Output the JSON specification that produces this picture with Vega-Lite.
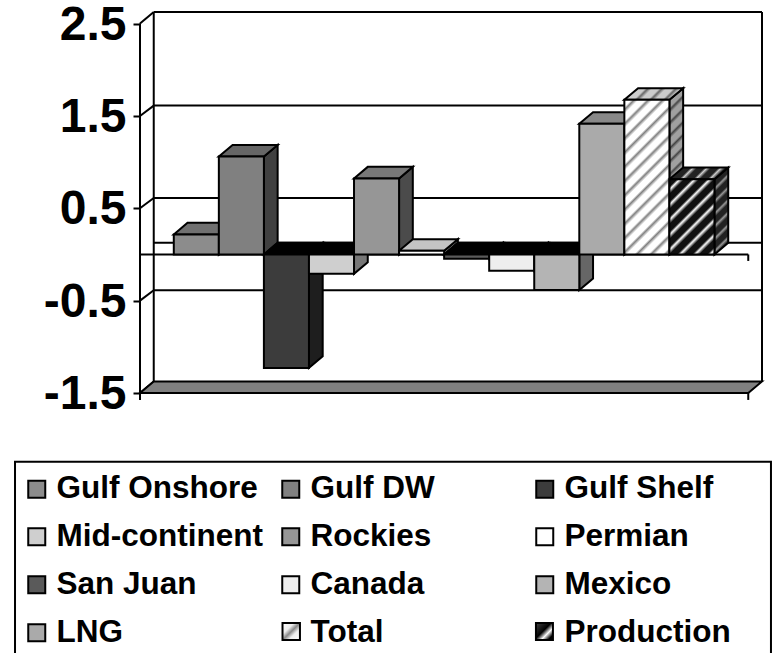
{
  "$schema": "https://vega.github.io/schema/vega-lite/v6.json",
  "width": 622,
  "height": 381,
  "autosize": {"type": "none"},
  "padding": {"left": 140, "top": 12, "right": 21, "bottom": 260},
  "background": "white",
  "config": {"view": {"stroke": null}, "font": "Liberation Sans"},
  "data": {"values": [
    {"source": "Gulf Onshore", "value": 0.217},
    {"source": "Gulf DW", "value": 1.06},
    {"source": "Gulf Shelf", "value": -1.228},
    {"source": "Mid-continent", "value": -0.209},
    {"source": "Rockies", "value": 0.823},
    {"source": "Permian", "value": 0.04},
    {"source": "San Juan", "value": -0.045},
    {"source": "Canada", "value": -0.175},
    {"source": "Mexico", "value": -0.385},
    {"source": "LNG", "value": 1.415},
    {"source": "Total", "value": 1.675},
    {"source": "Production", "value": 0.815}
  ]},
  "transform": [
    {"window": [{"op": "row_number", "as": "n"}]},
    {"calculate": "datum.n - 1", "as": "i"},
    {"calculate": "max(datum.value, 0)", "as": "hi"},
    {"calculate": "min(datum.value, 0)", "as": "lo"}
  ],
  "encoding": {
    "x": {"field": "px", "type": "quantitative", "scale": {"domain": [-0.75, 13.055], "nice": false, "zero": false}, "axis": null},
    "y": {"field": "py", "type": "quantitative", "scale": {"domain": [-1.5, 2.6257], "nice": false, "zero": false},
      "axis": {"title": null, "values": [-1.5, -0.5, 0.5, 1.5, 2.5], "format": ".1f", "labelExpr": "replace(datum.label, '\u2212', '-')", "domain": false, "grid": false, "tickSize": 7, "tickWidth": 2, "tickColor": "black", "labelFont": "Liberation Sans", "labelFontWeight": "bold", "labelFontSize": 48, "labelColor": "black", "labelPadding": 7, "labelOffset": 1.5}}
  },
  "resolve": {"scale": {"color": "independent"}},
  "layer": [
    {
      "data": {"values": [{"level": -0.5}, {"level": 0}, {"level": 0.5}, {"level": 1.5}, {"level": 2.5}]},
      "transform": [
        {"calculate": "datum.level + (datum.level === 0 || datum.level === 2.5 ? 0.1257 : 0.112)", "as": "py"},
        {"calculate": "-0.445", "as": "px"},
        {"calculate": "13.055", "as": "px2"}
      ],
      "mark": {"type": "rule", "stroke": "black", "strokeWidth": 2},
      "encoding": {"x2": {"field": "px2"}}
    },
    {
      "data": {"values": [{"level": -1.5}, {"level": -0.5}, {"level": 0.5}, {"level": 1.5}, {"level": 2.5}]},
      "transform": [
        {"calculate": "datum.level", "as": "py"},
        {"calculate": "datum.level + (datum.level === -1.5 || datum.level === 2.5 ? 0.1257 : 0.112)", "as": "py2"},
        {"calculate": "-0.75", "as": "px"},
        {"calculate": "-0.445", "as": "px2"}
      ],
      "mark": {"type": "rule", "stroke": "black", "strokeWidth": 2},
      "encoding": {"x2": {"field": "px2"}, "y2": {"field": "py2"}}
    },
    {
      "data": {"values": [{"edge": -0.445}, {"edge": 13.055}]},
      "transform": [
        {"calculate": "datum.edge", "as": "px"},
        {"calculate": "-1.3743", "as": "py"},
        {"calculate": "2.6257", "as": "py2"}
      ],
      "mark": {"type": "rule", "stroke": "black", "strokeWidth": 2},
      "encoding": {"y2": {"field": "py2"}}
    },
    {
      "data": {"values": [{"corner": 0}, {"corner": 1}, {"corner": 2}, {"corner": 3}]},
      "transform": [
        {"calculate": "[-0.75, -0.445, 12.75, 13.055][datum.corner]", "as": "px"},
        {"calculate": "datum.corner > 0 ? -1.3743 : -1.5", "as": "py"},
        {"calculate": "datum.corner === 3 ? -1.3743 : -1.5", "as": "py2"}
      ],
      "mark": {"type": "area", "orient": "vertical", "fill": "#808080", "stroke": "black", "strokeWidth": 2},
      "encoding": {"y2": {"field": "py2"}}
    },
    {
      "data": {"values": [
        {"px": -0.75, "px2": -0.75, "py": -1.575, "py2": 2.5},
        {"px": -0.75, "px2": 12.75, "py": 0, "py2": 0},
        {"px": 12.75, "px2": 12.75, "py": 0, "py2": -0.07},
        {"px": 12.75, "px2": 12.75, "py": -1.5, "py2": -1.575}
      ]},
      "mark": {"type": "rule", "stroke": "black", "strokeWidth": 2},
      "encoding": {"x2": {"field": "px2"}, "y2": {"field": "py2"}}
    },
    {
      "data": {"values": [{"px": -3.524, "px2": 13.254, "py": -2.244, "py2": -4.4}]},
      "mark": {"type": "rect", "fill": null, "stroke": "black", "strokeWidth": 2},
      "encoding": {"x2": {"field": "px2"}, "y2": {"field": "py2"}}
    },
    {
      "data": {"values": [{"px": 2.413, "px2": 2.8, "py": -3.99, "py2": -4.175}]},
      "mark": {"type": "rect", "stroke": "black", "strokeWidth": 2,
        "fill": {"gradient": "linear", "x1": 0, "y1": 0, "x2": 1, "y2": 1, "stops": [
          {"offset": 0, "color": "#ffffff"}, {"offset": 0.33, "color": "#eeeeee"}, {"offset": 0.5, "color": "#888888"}, {"offset": 0.67, "color": "#eeeeee"}, {"offset": 1, "color": "#ffffff"}]}},
      "encoding": {"x2": {"field": "px2"}, "y2": {"field": "py2"}}
    },
    {
      "data": {"values": [{"px": 8.038, "px2": 8.415, "py": -3.99, "py2": -4.175}]},
      "mark": {"type": "rect", "stroke": "black", "strokeWidth": 2,
        "fill": {"gradient": "linear", "x1": 0, "y1": 0, "x2": 1, "y2": 1, "stops": [
          {"offset": 0, "color": "#444444"}, {"offset": 0.45, "color": "#000000"}, {"offset": 0.65, "color": "#ffffff"}, {"offset": 0.85, "color": "#000000"}, {"offset": 1, "color": "#000000"}]}},
      "encoding": {"x2": {"field": "px2"}, "y2": {"field": "py2"}}
    },
    {
      "transform": [
        {"filter": "datum.source !== 'Total' && datum.source !== 'Production'"},
        {"calculate": "[0, 1]", "as": "t"},
        {"flatten": ["t"]},
        {"calculate": "datum.i + 1 + datum.t * 0.305", "as": "px"},
        {"calculate": "datum.hi + datum.t * 0.1257", "as": "py"},
        {"calculate": "datum.lo + datum.t * 0.1257", "as": "py2"}
      ],
      "mark": {"type": "area", "orient": "vertical", "stroke": "black", "strokeWidth": 2},
      "encoding": {
        "y2": {"field": "py2"},
        "color": {"field": "source", "type": "nominal", "legend": null, "scale": {
          "domain": ["Gulf Onshore", "Gulf DW", "Gulf Shelf", "Mid-continent", "Rockies", "Permian", "San Juan", "Canada", "Mexico", "LNG"],
          "range": ["#464646", "#404040", "#1e1e1e", "#777777", "#4b4b4b", "#808080", "#2d2d2d", "#777777", "#666666", "#555555"]}}
      }
    },
    {
      "transform": [
        {"filter": "datum.source === 'Total'"},
        {"calculate": "[0, 1]", "as": "t"},
        {"flatten": ["t"]},
        {"calculate": "datum.i + 1 + datum.t * 0.305", "as": "px"},
        {"calculate": "datum.hi + datum.t * 0.1257", "as": "py"},
        {"calculate": "datum.lo + datum.t * 0.1257", "as": "py2"}
      ],
      "mark": {"type": "area", "orient": "vertical", "stroke": "black", "strokeWidth": 2,
        "fill": {"gradient": "linear", "x1": 0, "y1": 0, "x2": 0.0888, "y2": 1.075, "stops": [
          {"offset": 0, "color": "#a0a0a0"},
          {"offset": 0.0357, "color": "#a0a0a0"}, {"offset": 0.05, "color": "#444444"}, {"offset": 0.0714, "color": "#a0a0a0"},
          {"offset": 0.1071, "color": "#a0a0a0"}, {"offset": 0.1214, "color": "#444444"}, {"offset": 0.1429, "color": "#a0a0a0"},
          {"offset": 0.1786, "color": "#a0a0a0"}, {"offset": 0.1929, "color": "#444444"}, {"offset": 0.2143, "color": "#a0a0a0"},
          {"offset": 0.25, "color": "#a0a0a0"}, {"offset": 0.2643, "color": "#444444"}, {"offset": 0.2857, "color": "#a0a0a0"},
          {"offset": 0.3214, "color": "#a0a0a0"}, {"offset": 0.3357, "color": "#444444"}, {"offset": 0.3571, "color": "#a0a0a0"},
          {"offset": 0.3929, "color": "#a0a0a0"}, {"offset": 0.4071, "color": "#444444"}, {"offset": 0.4286, "color": "#a0a0a0"},
          {"offset": 0.4643, "color": "#a0a0a0"}, {"offset": 0.4786, "color": "#444444"}, {"offset": 0.5, "color": "#a0a0a0"},
          {"offset": 0.5357, "color": "#a0a0a0"}, {"offset": 0.55, "color": "#444444"}, {"offset": 0.5714, "color": "#a0a0a0"},
          {"offset": 0.6071, "color": "#a0a0a0"}, {"offset": 0.6214, "color": "#444444"}, {"offset": 0.6429, "color": "#a0a0a0"},
          {"offset": 0.6786, "color": "#a0a0a0"}, {"offset": 0.6929, "color": "#444444"}, {"offset": 0.7143, "color": "#a0a0a0"},
          {"offset": 0.75, "color": "#a0a0a0"}, {"offset": 0.7643, "color": "#444444"}, {"offset": 0.7857, "color": "#a0a0a0"},
          {"offset": 0.8214, "color": "#a0a0a0"}, {"offset": 0.8357, "color": "#444444"}, {"offset": 0.8571, "color": "#a0a0a0"},
          {"offset": 0.8929, "color": "#a0a0a0"}, {"offset": 0.9071, "color": "#444444"}, {"offset": 0.9286, "color": "#a0a0a0"},
          {"offset": 0.9643, "color": "#a0a0a0"}, {"offset": 0.9786, "color": "#444444"}, {"offset": 1, "color": "#a0a0a0"}
        ]}},
      "encoding": {"y2": {"field": "py2"}}
    },
    {
      "transform": [
        {"filter": "datum.source === 'Production'"},
        {"calculate": "[0, 1]", "as": "t"},
        {"flatten": ["t"]},
        {"calculate": "datum.i + 1 + datum.t * 0.305", "as": "px"},
        {"calculate": "datum.hi + datum.t * 0.1257", "as": "py"},
        {"calculate": "datum.lo + datum.t * 0.1257", "as": "py2"}
      ],
      "mark": {"type": "area", "orient": "vertical", "stroke": "black", "strokeWidth": 2,
        "fill": {"gradient": "linear", "x1": 0, "y1": 0, "x2": 0.177, "y2": 1.122, "stops": [
          {"offset": 0, "color": "#222222"},
          {"offset": 0.0625, "color": "#222222"}, {"offset": 0.0875, "color": "#999999"}, {"offset": 0.125, "color": "#222222"},
          {"offset": 0.1875, "color": "#222222"}, {"offset": 0.2125, "color": "#999999"}, {"offset": 0.25, "color": "#222222"},
          {"offset": 0.3125, "color": "#222222"}, {"offset": 0.3375, "color": "#999999"}, {"offset": 0.375, "color": "#222222"},
          {"offset": 0.4375, "color": "#222222"}, {"offset": 0.4625, "color": "#999999"}, {"offset": 0.5, "color": "#222222"},
          {"offset": 0.5625, "color": "#222222"}, {"offset": 0.5875, "color": "#999999"}, {"offset": 0.625, "color": "#222222"},
          {"offset": 0.6875, "color": "#222222"}, {"offset": 0.7125, "color": "#999999"}, {"offset": 0.75, "color": "#222222"},
          {"offset": 0.8125, "color": "#222222"}, {"offset": 0.8375, "color": "#999999"}, {"offset": 0.875, "color": "#222222"},
          {"offset": 0.9375, "color": "#222222"}, {"offset": 0.9625, "color": "#999999"}, {"offset": 1, "color": "#222222"}
        ]}},
      "encoding": {"y2": {"field": "py2"}}
    },
    {
      "transform": [
        {"filter": "datum.source !== 'Total' && datum.source !== 'Production'"},
        {"calculate": "[0, 1, 2, 3]", "as": "t"},
        {"flatten": ["t"]},
        {"calculate": "[datum.i, datum.i + 0.305, datum.i + 1, datum.i + 1.305][datum.t]", "as": "px"},
        {"calculate": "datum.hi + (datum.t > 0 ? 0.1257 : 0)", "as": "py"},
        {"calculate": "datum.hi + (datum.t === 3 ? 0.1257 : 0)", "as": "py2"}
      ],
      "mark": {"type": "area", "orient": "vertical", "stroke": "black", "strokeWidth": 2},
      "encoding": {
        "y2": {"field": "py2"},
        "color": {"field": "source", "type": "nominal", "legend": null, "scale": {
          "domain": ["Gulf Onshore", "Gulf DW", "Gulf Shelf", "Mid-continent", "Rockies", "Permian", "San Juan", "Canada", "Mexico", "LNG"],
          "range": ["#707070", "#666666", "#000000", "#000000", "#787878", "#c4c4c4", "#000000", "#000000", "#000000", "#888888"]}}
      }
    },
    {
      "transform": [
        {"filter": "datum.source === 'Total'"},
        {"calculate": "[0, 1, 2, 3]", "as": "t"},
        {"flatten": ["t"]},
        {"calculate": "[datum.i, datum.i + 0.305, datum.i + 1, datum.i + 1.305][datum.t]", "as": "px"},
        {"calculate": "datum.hi + (datum.t > 0 ? 0.1257 : 0)", "as": "py"},
        {"calculate": "datum.hi + (datum.t === 3 ? 0.1257 : 0)", "as": "py2"}
      ],
      "mark": {"type": "area", "orient": "vertical", "stroke": "black", "strokeWidth": 2,
        "fill": {"gradient": "linear", "x1": 0, "y1": 0, "x2": 1.152, "y2": 0.228, "stops": [
          {"offset": 0, "color": "#cccccc"},
          {"offset": 0.1, "color": "#cccccc"}, {"offset": 0.14, "color": "#666666"}, {"offset": 0.2, "color": "#cccccc"},
          {"offset": 0.3, "color": "#cccccc"}, {"offset": 0.34, "color": "#666666"}, {"offset": 0.4, "color": "#cccccc"},
          {"offset": 0.5, "color": "#cccccc"}, {"offset": 0.54, "color": "#666666"}, {"offset": 0.6, "color": "#cccccc"},
          {"offset": 0.7, "color": "#cccccc"}, {"offset": 0.74, "color": "#666666"}, {"offset": 0.8, "color": "#cccccc"},
          {"offset": 0.9, "color": "#cccccc"}, {"offset": 0.94, "color": "#666666"}, {"offset": 1, "color": "#cccccc"}
        ]}},
      "encoding": {"y2": {"field": "py2"}}
    },
    {
      "transform": [
        {"filter": "datum.source === 'Production'"},
        {"calculate": "[0, 1, 2, 3]", "as": "t"},
        {"flatten": ["t"]},
        {"calculate": "[datum.i, datum.i + 0.305, datum.i + 1, datum.i + 1.305][datum.t]", "as": "px"},
        {"calculate": "datum.hi + (datum.t > 0 ? 0.1257 : 0)", "as": "py"},
        {"calculate": "datum.hi + (datum.t === 3 ? 0.1257 : 0)", "as": "py2"}
      ],
      "mark": {"type": "area", "orient": "vertical", "stroke": "black", "strokeWidth": 2,
        "fill": {"gradient": "linear", "x1": 0, "y1": 0, "x2": 1.152, "y2": 0.228, "stops": [
          {"offset": 0, "color": "#222222"},
          {"offset": 0.1, "color": "#222222"}, {"offset": 0.14, "color": "#cccccc"}, {"offset": 0.2, "color": "#222222"},
          {"offset": 0.3, "color": "#222222"}, {"offset": 0.34, "color": "#cccccc"}, {"offset": 0.4, "color": "#222222"},
          {"offset": 0.5, "color": "#222222"}, {"offset": 0.54, "color": "#cccccc"}, {"offset": 0.6, "color": "#222222"},
          {"offset": 0.7, "color": "#222222"}, {"offset": 0.74, "color": "#cccccc"}, {"offset": 0.8, "color": "#222222"},
          {"offset": 0.9, "color": "#222222"}, {"offset": 0.94, "color": "#cccccc"}, {"offset": 1, "color": "#222222"}
        ]}},
      "encoding": {"y2": {"field": "py2"}}
    },
    {
      "transform": [
        {"filter": "datum.source !== 'Total' && datum.source !== 'Production'"},
        {"calculate": "datum.i", "as": "px"},
        {"calculate": "datum.i + 1", "as": "px2"},
        {"calculate": "datum.value", "as": "py"},
        {"calculate": "0", "as": "py2"}
      ],
      "mark": {"type": "rect", "stroke": "black", "strokeWidth": 2},
      "encoding": {
        "x2": {"field": "px2"},
        "y2": {"field": "py2"},
        "fill": {
          "field": "source", "type": "nominal",
          "scale": {
            "domain": ["Gulf Onshore", "Gulf DW", "Gulf Shelf", "Mid-continent", "Rockies", "Permian", "San Juan", "Canada", "Mexico", "LNG", "Total", "Production"],
            "range": ["#8c8c8c", "#808080", "#3c3c3c", "#cfcfcf", "#969696", "#ffffff", "#5a5a5a", "#eeeeee", "#b4b4b4", "#aaaaaa", "#eeeeee", "#333333"]
          },
          "legend": {
            "title": null, "orient": "none", "legendX": -119, "legendY": 461, "columns": 3, "direction": "horizontal", "gridAlign": "all",
            "symbolType": "square", "symbolSize": 289, "symbolStrokeColor": "black", "symbolStrokeWidth": 2,
            "labelFont": "Liberation Sans", "labelFontWeight": "bold", "labelFontSize": 31.5, "labelColor": "black",
            "labelOffset": 4, "labelLimit": 400, "rowPadding": 15, "columnPadding": 12, "padding": 0,
            "encoding": {
              "symbols": {
                "stroke": {"value": "black"}, "strokeWidth": {"value": 2},
                "opacity": {"condition": {"test": "datum.value === 'Total' || datum.value === 'Production'", "value": 0}, "value": 1}
              }
            }
          }
        }
      }
    },
    {
      "transform": [
        {"filter": "datum.source === 'Total'"},
        {"calculate": "datum.i", "as": "px"},
        {"calculate": "datum.i + 1", "as": "px2"},
        {"calculate": "datum.value", "as": "py"},
        {"calculate": "0", "as": "py2"}
      ],
      "mark": {"type": "rect", "stroke": "black", "strokeWidth": 2,
        "fill": {"gradient": "linear", "x1": 0, "y1": 0, "x2": 0.3465, "y2": 1.19, "stops": [
          {"offset": 0, "color": "#ffffff"},
          {"offset": 0.0357, "color": "#ffffff"}, {"offset": 0.05, "color": "#808080"}, {"offset": 0.0714, "color": "#ffffff"},
          {"offset": 0.1071, "color": "#ffffff"}, {"offset": 0.1214, "color": "#808080"}, {"offset": 0.1429, "color": "#ffffff"},
          {"offset": 0.1786, "color": "#ffffff"}, {"offset": 0.1929, "color": "#808080"}, {"offset": 0.2143, "color": "#ffffff"},
          {"offset": 0.25, "color": "#ffffff"}, {"offset": 0.2643, "color": "#808080"}, {"offset": 0.2857, "color": "#ffffff"},
          {"offset": 0.3214, "color": "#ffffff"}, {"offset": 0.3357, "color": "#808080"}, {"offset": 0.3571, "color": "#ffffff"},
          {"offset": 0.3929, "color": "#ffffff"}, {"offset": 0.4071, "color": "#808080"}, {"offset": 0.4286, "color": "#ffffff"},
          {"offset": 0.4643, "color": "#ffffff"}, {"offset": 0.4786, "color": "#808080"}, {"offset": 0.5, "color": "#ffffff"},
          {"offset": 0.5357, "color": "#ffffff"}, {"offset": 0.55, "color": "#808080"}, {"offset": 0.5714, "color": "#ffffff"},
          {"offset": 0.6071, "color": "#ffffff"}, {"offset": 0.6214, "color": "#808080"}, {"offset": 0.6429, "color": "#ffffff"},
          {"offset": 0.6786, "color": "#ffffff"}, {"offset": 0.6929, "color": "#808080"}, {"offset": 0.7143, "color": "#ffffff"},
          {"offset": 0.75, "color": "#ffffff"}, {"offset": 0.7643, "color": "#808080"}, {"offset": 0.7857, "color": "#ffffff"},
          {"offset": 0.8214, "color": "#ffffff"}, {"offset": 0.8357, "color": "#808080"}, {"offset": 0.8571, "color": "#ffffff"},
          {"offset": 0.8929, "color": "#ffffff"}, {"offset": 0.9071, "color": "#808080"}, {"offset": 0.9286, "color": "#ffffff"},
          {"offset": 0.9643, "color": "#ffffff"}, {"offset": 0.9786, "color": "#808080"}, {"offset": 1, "color": "#ffffff"}
        ]}},
      "encoding": {"x2": {"field": "px2"}, "y2": {"field": "py2"}}
    },
    {
      "transform": [
        {"filter": "datum.source === 'Production'"},
        {"calculate": "datum.i", "as": "px"},
        {"calculate": "datum.i + 1", "as": "px2"},
        {"calculate": "datum.value", "as": "py"},
        {"calculate": "0", "as": "py2"}
      ],
      "mark": {"type": "rect", "stroke": "black", "strokeWidth": 2,
        "fill": {"gradient": "linear", "x1": 0, "y1": 0, "x2": 0.706, "y2": 1.177, "stops": [
          {"offset": 0, "color": "#111111"},
          {"offset": 0.0625, "color": "#111111"}, {"offset": 0.0875, "color": "#ffffff"}, {"offset": 0.125, "color": "#111111"},
          {"offset": 0.1875, "color": "#111111"}, {"offset": 0.2125, "color": "#ffffff"}, {"offset": 0.25, "color": "#111111"},
          {"offset": 0.3125, "color": "#111111"}, {"offset": 0.3375, "color": "#ffffff"}, {"offset": 0.375, "color": "#111111"},
          {"offset": 0.4375, "color": "#111111"}, {"offset": 0.4625, "color": "#ffffff"}, {"offset": 0.5, "color": "#111111"},
          {"offset": 0.5625, "color": "#111111"}, {"offset": 0.5875, "color": "#ffffff"}, {"offset": 0.625, "color": "#111111"},
          {"offset": 0.6875, "color": "#111111"}, {"offset": 0.7125, "color": "#ffffff"}, {"offset": 0.75, "color": "#111111"},
          {"offset": 0.8125, "color": "#111111"}, {"offset": 0.8375, "color": "#ffffff"}, {"offset": 0.875, "color": "#111111"},
          {"offset": 0.9375, "color": "#111111"}, {"offset": 0.9625, "color": "#ffffff"}, {"offset": 1, "color": "#111111"}
        ]}},
      "encoding": {"x2": {"field": "px2"}, "y2": {"field": "py2"}}
    }
  ]
}
